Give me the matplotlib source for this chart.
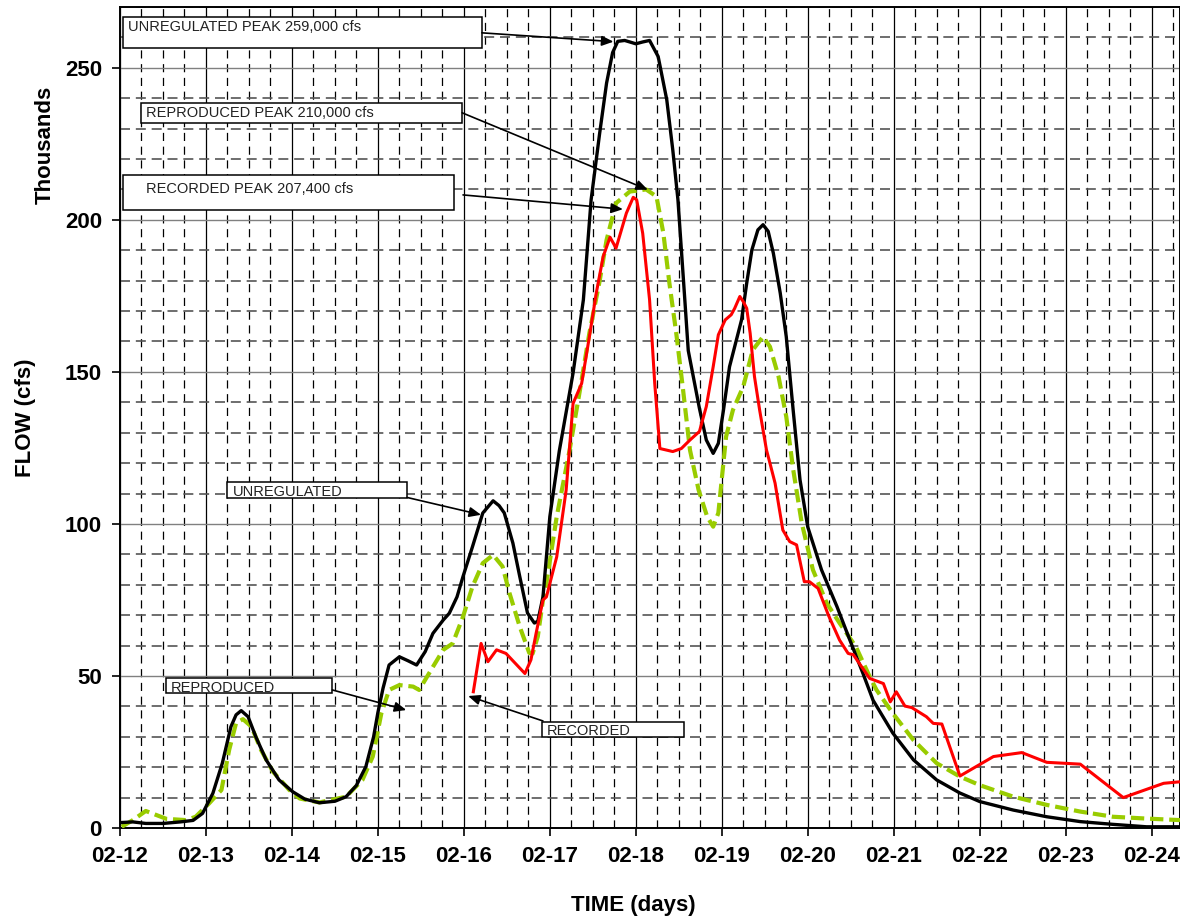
"""
Flood hydrograph: unregulated vs reproduced vs recorded flow, 02-12 to 02-24.
"""
import numpy as np
import matplotlib.pyplot as plt
from matplotlib.patches import Rectangle
from matplotlib.ticker import MultipleLocator

plt.rcParams['font.family'] = ['Liberation Sans', 'DejaVu Sans']

# time in days after 02-12 00:00, flow in thousands of cfs
unreg_t = [0.02, 0.15, 0.3, 0.5, 0.7, 0.85, 0.96, 1.08, 1.19, 1.29, 1.35, 1.41,
           1.49, 1.58, 1.7, 1.85, 2.01, 2.15, 2.32, 2.5, 2.63, 2.75, 2.86, 2.95,
           3.0, 3.06, 3.13, 3.25, 3.35, 3.45, 3.55, 3.64, 3.76, 3.83, 3.92, 3.99,
           4.1, 4.22, 4.34, 4.41, 4.47, 4.57, 4.65, 4.74, 4.82, 4.86, 4.92, 5.0,
           5.11, 5.27, 5.39, 5.48, 5.58, 5.66, 5.73, 5.79, 5.87, 5.93, 6.0, 6.08,
           6.16, 6.26, 6.36, 6.43, 6.49, 6.57, 6.61, 6.74, 6.82, 6.9, 6.96, 7.02,
           7.09, 7.17, 7.23, 7.29, 7.35, 7.42, 7.48, 7.54, 7.6, 7.68, 7.75, 7.83,
           7.91, 8.0, 8.16, 8.34, 8.49, 8.64, 8.76, 8.99, 9.23, 9.5, 9.77, 10.0,
           10.39, 10.78, 11.17, 11.55, 11.94, 12.33]
unreg_q = [1.8, 2.0, 1.5, 1.5, 2.0, 2.5, 4.8, 11.4, 21.3, 33.3, 37.2, 38.6,
           36.6, 30.0, 22.4, 15.8, 11.9, 9.5, 8.3, 8.8, 10.3, 14.0, 20.2, 30.0,
           38.0, 46.0, 53.6, 56.3, 55.0, 53.6, 58.0, 64.0, 68.4, 70.6, 76.0, 82.7,
           92.5, 103.6, 107.6, 106.0, 103.6, 93.7, 82.7, 70.7, 67.4, 68.0, 76.0, 102.4,
           124.0, 149.6, 173.7, 206.6, 228.6, 245.0, 255.0, 258.7, 259.0, 258.5, 257.9, 258.5,
           259.0, 253.7, 239.5, 223.0, 206.6, 173.7, 157.0, 138.0, 127.6, 123.2, 126.5, 137.5,
           151.7, 160.5, 167.1, 179.2, 190.1, 196.7, 198.4, 196.2, 189.0, 175.9, 161.6, 137.5,
           114.5, 99.0, 84.9, 72.8, 61.8, 51.0, 42.0, 31.2, 22.4, 15.8, 11.5, 8.7,
           5.9, 3.7, 2.1, 1.2, 0.4, 0.4]

repro_t = [0.02, 0.15, 0.3, 0.42, 0.54, 0.77, 0.88, 1.04, 1.18, 1.27, 1.35, 1.43,
           1.53, 1.64, 1.78, 1.97, 2.09, 2.32, 2.63, 2.82, 2.94, 3.04, 3.13, 3.25,
           3.41, 3.48, 3.64, 3.76, 3.87, 3.99, 4.1, 4.22, 4.34, 4.45, 4.53, 4.65,
           4.76, 4.8, 4.86, 4.92, 4.96, 5.08, 5.23, 5.35, 5.46, 5.58, 5.66, 5.77,
           5.93, 6.12, 6.24, 6.32, 6.39, 6.47, 6.55, 6.63, 6.73, 6.83, 6.9, 6.96,
           7.05, 7.13, 7.25, 7.36, 7.48, 7.56, 7.66, 7.75, 7.83, 7.93, 8.06, 8.22,
           8.37, 8.56, 8.72, 8.8, 8.99, 9.23, 9.5, 9.77, 10.0, 10.39, 10.78, 11.17,
           11.55, 11.94, 12.33]
repro_q = [0.4, 2.6, 5.6, 4.3, 3.0, 2.6, 3.7, 8.2, 12.5, 25.7, 34.5, 35.8,
           33.3, 25.7, 18.5, 12.5, 9.7, 8.4, 10.3, 15.8, 23.5, 37.7, 45.4, 47.0,
           46.5, 45.4, 53.0, 58.6, 60.7, 69.5, 79.4, 87.1, 89.8, 86.0, 77.3, 66.2,
           57.6, 57.4, 63.0, 75.0, 80.5, 102.4, 124.3, 144.0, 162.8, 180.0, 193.4, 205.5,
           209.3, 210.0, 207.7, 195.7, 179.3, 162.8, 144.0, 124.3, 111.2, 102.4, 99.1, 103.6,
           128.7, 137.5, 145.2, 157.2, 161.6, 158.3, 148.5, 135.3, 118.0, 100.3, 84.9, 74.0,
           67.4, 59.6, 49.8, 45.4, 37.7, 28.9, 21.3, 16.9, 14.1, 10.3, 7.6, 5.4,
           3.7, 3.1, 2.6]

rec_t = [4.11, 4.2, 4.28, 4.38, 4.49, 4.71, 4.78, 4.84, 4.92, 4.96, 5.08, 5.19,
         5.27, 5.37, 5.46, 5.54, 5.62, 5.7, 5.77, 5.89, 5.97, 6.01, 6.08, 6.16,
         6.22, 6.28, 6.43, 6.53, 6.63, 6.74, 6.82, 6.9, 6.96, 7.04, 7.11, 7.15,
         7.21, 7.25, 7.29, 7.33, 7.38, 7.44, 7.52, 7.56, 7.62, 7.71, 7.79, 7.87,
         7.96, 8.02, 8.12, 8.24, 8.37, 8.47, 8.53, 8.72, 8.88, 8.96, 9.03, 9.13,
         9.21, 9.38, 9.46, 9.56, 9.77, 10.16, 10.49, 10.78, 11.17, 11.67, 12.14, 12.33]
rec_q = [44.8, 60.7, 54.7, 58.6, 57.4, 50.8, 55.3, 64.0, 75.0, 76.0, 89.2, 111.2,
         139.6, 146.2, 161.6, 175.9, 187.9, 194.3, 190.7, 202.2, 207.4, 206.6, 195.6, 173.7,
         146.2, 124.8, 123.8, 124.8, 127.6, 130.4, 138.6, 151.7, 162.2, 167.1, 168.8, 170.9,
         174.8, 173.1, 170.9, 162.7, 148.5, 137.5, 124.3, 120.0, 113.4, 98.0, 94.2, 93.1,
         81.0, 81.0, 78.8, 70.0, 61.8, 57.4, 57.0, 49.2, 47.5, 41.5, 44.8, 40.1,
         39.6, 36.6, 34.4, 34.2, 17.1, 23.5, 24.8, 21.6, 21.0, 10.0, 14.7, 15.2]

day_labels = ["02-12", "02-13", "02-14", "02-15", "02-16", "02-17", "02-18",
              "02-19", "02-20", "02-21", "02-22", "02-23", "02-24"]

# callout boxes: text, box (x0, x1, y0, y1), text anchor, arrow start, arrow end
callouts = [
    ("UNREGULATED PEAK 259,000 cfs", (0.04, 4.21, 256.6, 266.8), (0.09, 263.3), (4.21, 261.5), (5.74, 258.6)),
    ("REPRODUCED PEAK 210,000 cfs", (0.25, 3.98, 231.9, 238.5), (0.30, 235.0), (3.98, 235.2), (6.14, 209.9)),
    ("RECORDED PEAK 207,400 cfs", (0.04, 3.89, 203.3, 214.8), (0.30, 210.3), (3.99, 208.2), (5.85, 203.5)),
    ("UNREGULATED", (1.25, 3.34, 108.6, 113.7), (1.31, 110.6), (3.34, 108.7), (4.20, 103.0)),
    ("REPRODUCED", (0.54, 2.47, 44.3, 49.2), (0.59, 46.2), (2.47, 45.4), (3.33, 38.8)),
    ("RECORDED", (4.91, 6.56, 30.0, 35.0), (4.96, 32.0), (4.92, 35.2), (4.05, 43.4)),
]

fig = plt.figure(figsize=(11.8, 9.18), dpi=100)
ax = fig.add_axes([120 / 1180, 90 / 918, 1060 / 1180, 821 / 918])

ax.plot(unreg_t, unreg_q, color="black", lw=2.4, zorder=5, solid_joinstyle="round")
ax.plot(repro_t, repro_q, color="#99CC00", lw=3.0, ls=(0, (3.2, 1.4)), zorder=4)
ax.plot(rec_t, rec_q, color="#FF0000", lw=2.2, zorder=6, solid_joinstyle="round")

ax.set_xlim(0, 12.33)
ax.set_ylim(0, 270)
ax.xaxis.set_minor_locator(MultipleLocator(0.25))
ax.yaxis.set_major_locator(MultipleLocator(50))
ax.yaxis.set_minor_locator(MultipleLocator(10))
ax.set_xticks(np.arange(len(day_labels)))
ax.set_xticklabels(day_labels)

ax.grid(True, which="major", axis="x", color="black", lw=0.9)
ax.grid(True, which="minor", axis="x", color="black", lw=0.9, ls=(0, (6.5, 4.5)))
ax.grid(True, which="major", axis="y", color="#808080", lw=1.0)
ax.grid(True, which="minor", axis="y", color="#555555", lw=1.2, ls=(0, (6, 3.5)))
ax.set_axisbelow(True)

ax.tick_params(which="major", direction="out", length=6, width=1.2,
               labelsize=16, pad=7)
ax.tick_params(which="minor", length=0)
for lab in ax.get_xticklabels() + ax.get_yticklabels():
    lab.set_fontweight("bold")
for sp in ax.spines.values():
    sp.set_linewidth(1.4)

for text, (x0, x1, y0, y1), (tx, ty), start, end in callouts:
    ax.add_patch(Rectangle((x0, y0), x1 - x0, y1 - y0, facecolor="white",
                           edgecolor="black", lw=1.1, zorder=8))
    ax.text(tx, ty, text, fontsize=10.5, color="#222222", ha="left",
            va="center", zorder=9)
    ax.annotate("", xy=end, xytext=start, zorder=9,
                arrowprops=dict(arrowstyle="-|>,head_length=0.7,head_width=0.3",
                                color="black", lw=1.2, shrinkA=0, shrinkB=0))

fig.text(25 / 1180, 1 - 418 / 918, "FLOW (cfs)", rotation=90, ha="center",
         va="center", fontsize=16, fontweight="bold")
fig.text(45 / 1180, 1 - 145 / 918, "Thousands", rotation=90, ha="center",
         va="center", fontsize=16, fontweight="bold")
fig.text(633 / 1180, 1 - 905 / 918, "TIME (days)", ha="center", va="center",
         fontsize=16, fontweight="bold")

fig.savefig("out.png", dpi=100)
plt.close(fig)
